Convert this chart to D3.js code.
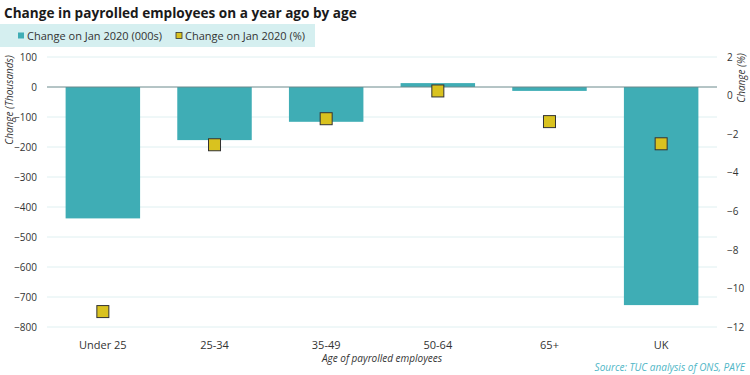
<!DOCTYPE html>
<html>
<head>
<meta charset="utf-8">
<script src="https://cdn.jsdelivr.net/npm/d3@7"></script>
<style>
  body { margin: 0; background: #fff; }
  text { font-family: "Open Sans", "Noto Sans", sans-serif; }
</style>
</head>
<body>
<div class="svg"></div>
<script>
// chart data
var categories = ["Under 25", "25-34", "35-49", "50-64", "65+", "UK"];
var changeThousands = [-438, -177, -116, 13, -13, -727];
var changePercent = [-11.2, -2.55, -1.2, 0.24, -1.35, -2.5];
var leftTicks = [100, 0, -100, -200, -300, -400, -500, -600, -700, -800];
var rightTicks = [2, 0, -2, -4, -6, -8, -10, -12];
var legendLabels = ["Change on Jan 2020 (000s)", "Change on Jan 2020 (%)"];

var width = 750, height = 375;
var plotLeft = 47, plotRight = 717, plotTop = 57, plotBottom = 327;
var barColor = "#3fadb5", markerColor = "#d9c21f";

var svg = d3.select("div.svg")
    .append("svg")
    .attr("width", width)
    .attr("height", height);

// scales
var x = d3.scaleBand()
    .domain(categories)
    .range([plotLeft, plotRight])
    .paddingInner(0.333)
    .paddingOuter(0.1667);

var y = d3.scaleLinear()
    .domain([-800, 100])
    .range([plotBottom, plotTop]);

var y2 = d3.scaleLinear()
    .domain([-12, 2])
    .range([plotBottom, plotTop]);

// title
svg.append("text")
    .attr("x", 4)
    .attr("y", 18)
    .style("font-size", "13.6px")
    .style("font-weight", "bold")
    .style("fill", "#1a1a1a")
    .text("Change in payrolled employees on a year ago by age");

// legend band
svg.append("rect")
    .attr("x", 0).attr("y", 24)
    .attr("width", 315).attr("height", 23)
    .style("fill", "#d5eff0");

var legendX = [18, 176];
legendLabels.forEach(function (lab, i) {
    var g = svg.append("g").attr("transform", "translate(" + legendX[i] + ",35.5)");
    g.append("rect")
        .attr("x", 0).attr("y", -3)
        .attr("width", 6).attr("height", 6)
        .style("fill", i === 0 ? barColor : markerColor)
        .style("stroke", i === 0 ? "none" : "#333")
        .style("stroke-width", 0.8);
    g.append("text")
        .attr("x", 9).attr("y", 4)
        .style("font-size", "11px")
        .style("fill", "#333")
        .text(lab);
});

// gridlines
svg.append("g")
    .selectAll("line")
    .data(leftTicks.filter(function (d) { return d !== 0; }))
    .enter().append("line")
    .attr("x1", plotLeft).attr("x2", plotRight)
    .attr("y1", function (d) { return y(d); })
    .attr("y2", function (d) { return y(d); })
    .style("stroke", "#dff0f1")
    .style("stroke-width", 1);

// left axis
var leftAxis = svg.append("g")
    .attr("transform", "translate(" + plotLeft + ",0)")
    .call(d3.axisLeft(y).tickValues(leftTicks).tickSize(0).tickPadding(10));
leftAxis.select(".domain").remove();
leftAxis.selectAll("text")
    .style("font-size", "10px")
    .style("fill", "#333")
    .style("font-family", "'Open Sans', sans-serif");

// right axis
var rightAxis = svg.append("g")
    .attr("transform", "translate(" + plotRight + ",0)")
    .call(d3.axisRight(y2).tickValues(rightTicks).tickSize(0).tickPadding(10));
rightAxis.select(".domain").remove();
rightAxis.selectAll("text")
    .style("font-size", "10px")
    .style("fill", "#333")
    .style("font-family", "'Open Sans', sans-serif");

// bars
svg.append("g")
    .selectAll("rect")
    .data(categories)
    .enter().append("rect")
    .attr("x", function (d) { return x(d); })
    .attr("width", x.bandwidth())
    .attr("y", function (d, i) { return y(Math.max(0, changeThousands[i])); })
    .attr("height", function (d, i) { return Math.abs(y(changeThousands[i]) - y(0)); })
    .style("fill", barColor);

// zero line
svg.append("line")
    .attr("x1", plotLeft).attr("x2", plotRight)
    .attr("y1", y(0)).attr("y2", y(0))
    .style("stroke", "#6b8a8c")
    .style("stroke-width", 1);

// markers
var ms = 12;
svg.append("g")
    .selectAll("rect")
    .data(categories)
    .enter().append("rect")
    .attr("x", function (d) { return x(d) + x.bandwidth() / 2 - ms / 2; })
    .attr("y", function (d, i) { return y2(changePercent[i]) - ms / 2; })
    .attr("width", ms).attr("height", ms)
    .style("fill", markerColor)
    .style("stroke", "#333")
    .style("stroke-width", 1);

// x labels
svg.append("g")
    .selectAll("text")
    .data(categories)
    .enter().append("text")
    .attr("x", function (d) { return x(d) + x.bandwidth() / 2; })
    .attr("y", 349)
    .attr("text-anchor", "middle")
    .style("font-size", "11px")
    .style("fill", "#333")
    .text(function (d) { return d; });

// axis titles
svg.append("text")
    .attr("x", 382).attr("y", 362)
    .attr("text-anchor", "middle")
    .style("font-size", "10px")
    .style("font-style", "italic")
    .style("fill", "#333")
    .text("Age of payrolled employees");

svg.append("text")
    .attr("transform", "translate(13,100) rotate(-90)")
    .attr("text-anchor", "middle")
    .style("font-size", "10px")
    .style("font-style", "italic")
    .style("fill", "#333")
    .text("Change (Thousands)");

svg.append("text")
    .attr("transform", "translate(745,78) rotate(-90)")
    .attr("text-anchor", "middle")
    .style("font-size", "10px")
    .style("font-style", "italic")
    .style("fill", "#333")
    .text("Change (%)");

// source
svg.append("text")
    .attr("x", 745).attr("y", 371)
    .attr("text-anchor", "end")
    .style("font-size", "10px")
    .style("font-style", "italic")
    .style("fill", "#4fb6c6")
    .text("Source: TUC analysis of ONS, PAYE");
</script>
</body>
</html>
